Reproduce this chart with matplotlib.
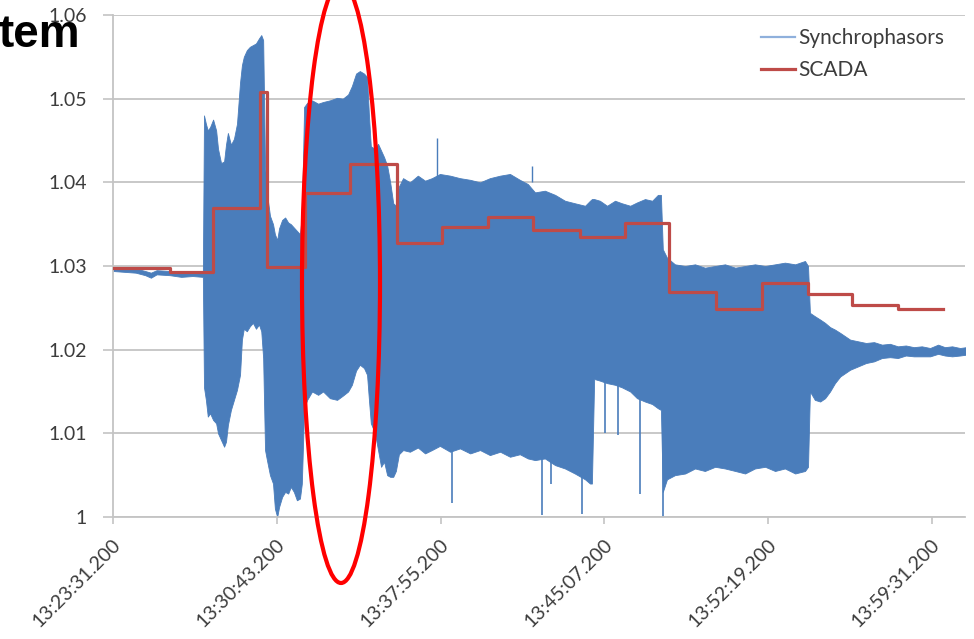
import matplotlib
matplotlib.use("Agg")
import matplotlib.pyplot as plt
from matplotlib.lines import Line2D
from matplotlib.patches import Ellipse
from matplotlib.transforms import ScaledTranslation

# ---------------- data ----------------
# time axis in seconds after 13:23:31.200
tick_seconds = [0, 432, 864, 1296, 1728, 2160]
tick_labels = ["13:23:31.200", "13:30:43.200", "13:37:55.200",
               "13:45:07.200", "13:52:19.200", "13:59:31.200"]
y_ticks = [1.0, 1.01, 1.02, 1.03, 1.04, 1.05, 1.06]
y_tick_labels = ["1", "1.01", "1.02", "1.03", "1.04", "1.05", "1.06"]

# Synchrophasor measurement: envelope (upper / lower) of the dense oscillating trace
pmu_t = [0, 30, 60, 85, 100, 115, 150, 180, 210, 237,
         240, 245, 250, 256, 264, 272, 277, 285, 293, 298, 303, 311, 319, 327,
         335, 340, 345, 353, 361, 369, 377, 385, 391, 396, 401, 406, 414, 422,
         427, 433, 438, 446, 454, 462, 469, 477, 485, 493, 498,
         504, 512, 525, 541, 554, 572, 591, 606, 620, 630, 641, 651, 662, 670,
         675, 680, 691, 699, 707, 715, 723, 731, 739, 746, 754,
         765, 783, 804, 823, 841, 862, 889, 915, 942, 968, 994, 1021, 1047,
         1073, 1094, 1113, 1139, 1166, 1192, 1218, 1245, 1258, 1263,
         1269, 1284, 1303, 1324, 1342, 1364, 1382, 1403, 1422, 1437, 1445,
         1450, 1461, 1482, 1509, 1535, 1561, 1588, 1614, 1641, 1667, 1693,
         1720, 1746, 1772, 1799, 1825, 1833,
         1838, 1851, 1865, 1878, 1891, 1904, 1918, 1931, 1944, 1965, 1986,
         2007, 2028, 2049, 2070, 2091, 2112, 2133, 2155, 2176, 2194, 2213,
         2234, 2250]
pmu_upper = [1.0298, 1.0297, 1.0297, 1.0294, 1.0292, 1.0295, 1.0294, 1.0292, 1.0293, 1.0292,
             1.0480, 1.0470, 1.0462, 1.0466, 1.0475, 1.0462, 1.0440, 1.0423, 1.0425, 1.0445,
             1.0459, 1.0445, 1.0452, 1.0470,
             1.0519, 1.0540, 1.0550, 1.0558, 1.0562, 1.0564, 1.0566, 1.0572, 1.0576, 1.0570,
             1.0420, 1.0387, 1.0360, 1.0350,
             1.0338, 1.0331, 1.0345, 1.0355, 1.0358, 1.0352, 1.0350, 1.0346, 1.0342, 1.0338, 1.0360,
             1.0490, 1.0495, 1.0498, 1.0494, 1.0496, 1.0498, 1.0501, 1.0500, 1.0505, 1.0515,
             1.0530, 1.0533, 1.0530, 1.0526,
             1.0480, 1.0443, 1.0440, 1.0446, 1.0438, 1.0430, 1.0420, 1.0400, 1.0375, 1.0372, 1.0395,
             1.0405, 1.0400, 1.0408, 1.0402, 1.0405, 1.0410, 1.0408, 1.0405, 1.0403, 1.0400,
             1.0405, 1.0408, 1.0410,
             1.0403, 1.0398, 1.0388, 1.0390, 1.0385, 1.0378, 1.0375, 1.0372, 1.0378, 1.0380,
             1.0380, 1.0378, 1.0372, 1.0378, 1.0375, 1.0372, 1.0376, 1.0380, 1.0378, 1.0385, 1.0385,
             1.0320, 1.0310, 1.0302, 1.0300, 1.0302, 1.0298, 1.0300, 1.0302, 1.0298, 1.0300, 1.0302,
             1.0300, 1.0302, 1.0304, 1.0302, 1.0306, 1.0300,
             1.0244, 1.0240, 1.0236, 1.0232, 1.0227, 1.0224, 1.0220, 1.0216, 1.0212, 1.0210, 1.0208,
             1.0209, 1.0206, 1.0207, 1.0204, 1.0205, 1.0203, 1.0204, 1.0202, 1.0206, 1.0203, 1.0204,
             1.0202, 1.0203]
pmu_lower = [1.0294, 1.0293, 1.0292, 1.0289, 1.0286, 1.0290, 1.0289, 1.0287, 1.0288, 1.0287,
             1.0155, 1.0140, 1.0120, 1.0124, 1.0116, 1.0112, 1.0100, 1.0092, 1.0084, 1.0090,
             1.0110, 1.0128, 1.0140, 1.0152,
             1.0170, 1.0212, 1.0225, 1.0222, 1.0228, 1.0232, 1.0225, 1.0230, 1.0222, 1.0190,
             1.0080, 1.0068, 1.0050, 1.0040,
             1.0010, 1.0000, 1.0012, 1.0024, 1.0030, 1.0028, 1.0036, 1.0030, 1.0020, 1.0022, 1.0040,
             1.0130, 1.0140, 1.0150, 1.0146, 1.0150, 1.0142, 1.0140, 1.0145, 1.0150, 1.0158,
             1.0175, 1.0182, 1.0178, 1.0170,
             1.0140, 1.0112, 1.0100, 1.0080, 1.0060, 1.0066, 1.0050, 1.0048, 1.0048, 1.0055, 1.0075,
             1.0080, 1.0078, 1.0083, 1.0076, 1.0080, 1.0085, 1.0078, 1.0082, 1.0076, 1.0080,
             1.0074, 1.0078, 1.0072,
             1.0075, 1.0070, 1.0068, 1.0070, 1.0062, 1.0058, 1.0052, 1.0045, 1.0040, 1.0040,
             1.0165, 1.0163, 1.0160, 1.0158, 1.0155, 1.0150, 1.0142, 1.0138, 1.0135, 1.0130, 1.0128,
             1.0030, 1.0045, 1.0050, 1.0052, 1.0058, 1.0055, 1.0060, 1.0058, 1.0055, 1.0052, 1.0058,
             1.0060, 1.0055, 1.0058, 1.0052, 1.0055, 1.0060,
             1.0150, 1.0140, 1.0138, 1.0142, 1.0150, 1.0160, 1.0168, 1.0172, 1.0176, 1.0180, 1.0184,
             1.0186, 1.0190, 1.0191, 1.0190, 1.0193, 1.0192, 1.0192, 1.0192, 1.0195, 1.0193, 1.0192,
             1.0193, 1.0194]

# isolated spikes of the synchrophasor trace
spike_t = [894, 1131, 1155, 1237, 1298, 1332, 1390, 1450]
spike_low = [1.0017, 1.0002, 1.0040, 1.0003, 1.0100, 1.0098, 1.0028, 1.0000]
spike_up_t = [854, 1105]
spike_up_high = [1.0453, 1.0420]

# SCADA values (step every ~2 min)
scada_t = [0, 150, 264, 388, 406, 506, 625, 749, 868, 989, 1108, 1231, 1350,
           1466, 1590, 1711, 1833, 1949, 2070, 2189]
scada_v = [1.0298, 1.0293, 1.0369, 1.0508, 1.0299, 1.0387, 1.0422, 1.0327, 1.0347,
           1.0359, 1.0343, 1.0335, 1.0351, 1.0269, 1.0249, 1.0280, 1.0266, 1.0253,
           1.0249, 1.0249]

series_names = ["Synchrophasors", "SCADA"]
title_fragment = "tem"

# ---------------- style ----------------
BLUE = "#4a7dbb"
RED = "#be4b48"
GRID = "#c4c4c4"
TXT = "#3c3c3c"
FONT = ["Lato", "DejaVu Sans"]

W, H = 974, 639
fig = plt.figure(figsize=(W / 100, H / 100), dpi=100)
ax = fig.add_axes([113 / W, 1 - 517 / H, (965 - 113) / W, (517 - 15) / H])

ax.fill_between(pmu_t, pmu_lower, pmu_upper, color=BLUE, lw=0.6, edgecolor=BLUE, zorder=2)
ax.vlines(spike_t, spike_low, [1.0170] * len(spike_t), color=BLUE, lw=1.2, zorder=2)
ax.vlines(spike_up_t, [1.040] * len(spike_up_t), spike_up_high, color=BLUE, lw=1.0, zorder=2)
ax.step(scada_t, scada_v, where="post", color=RED, lw=2.3, zorder=3)

ax.set_xlim(0, 2247)
ax.set_ylim(1.0, 1.06)
ax.set_xticks(tick_seconds)
ax.set_xticklabels(tick_labels, rotation=45, ha="right", va="center",
                   rotation_mode="anchor", fontsize=14, color=TXT, family=FONT)
ax.set_yticks(y_ticks)
ax.set_yticklabels(y_tick_labels, fontsize=14, color=TXT, family=FONT)
ax.tick_params(axis="x", length=5, width=1.2, color=GRID, pad=13)
ax.tick_params(axis="y", length=7, width=1.2, color=GRID, pad=12)
shift = ScaledTranslation(5 / 100, 0, fig.dpi_scale_trans)
for lbl in ax.get_xticklabels():
    lbl.set_transform(lbl.get_transform() + shift)

ax.set_axisbelow(True)
ax.yaxis.grid(True, color=GRID, lw=1.3)
for s in ["top", "right"]:
    ax.spines[s].set_visible(False)
for s in ["left", "bottom"]:
    ax.spines[s].set_color(GRID)
    ax.spines[s].set_linewidth(1.3)

handles = [Line2D([], [], color="#8fb0dc", lw=1.6),
           Line2D([], [], color=RED, lw=2.3)]
ax.legend(handles, series_names, loc="upper left",
          bbox_to_anchor=(753 / W, 1 - 20 / H), bbox_transform=fig.transFigure,
          frameon=False, handlelength=1.6, handletextpad=0.15, labelspacing=0.55,
          prop={"family": FONT, "size": 15}, labelcolor=TXT, borderaxespad=0)

# partial slide title and red highlight ellipse
fig.text(80 / W, 1 - 47 / H, title_fragment, ha="right", va="baseline",
         fontsize=33, fontweight="bold", color="black", family=["Liberation Sans", "DejaVu Sans"])
fig.add_artist(Ellipse((341 / W, 1 - 283 / H), 78 / W, 600 / H, transform=fig.transFigure,
                       fill=False, ec="#ff0000", lw=3, zorder=10, clip_on=False))

fig.savefig("out.png", dpi=100)
